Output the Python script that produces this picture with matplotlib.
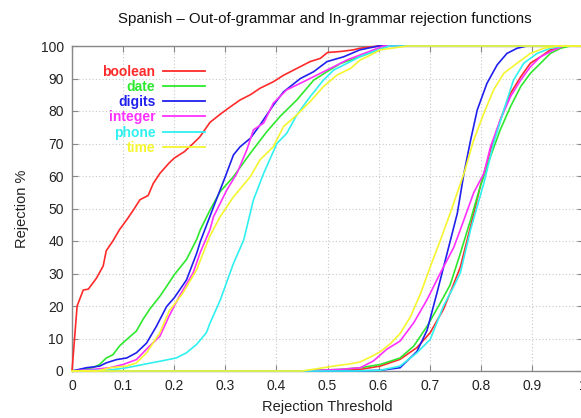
import matplotlib
matplotlib.use("Agg")
import matplotlib.pyplot as plt

plt.rcParams['font.family'] = ['Liberation Sans', 'DejaVu Sans']

categories = ["boolean", "date", "digits", "integer", "phone", "time"]
colors = ["#ff2a2a", "#2ee82e", "#2020ee", "#ff30ff", "#30f0f0", "#f5f530"]

# Out-of-grammar rejection curves (left group)
oog_boolean_t = [0, 0.01, 0.022, 0.032, 0.048, 0.061, 0.067, 0.08, 0.093, 0.107, 0.12, 0.133, 0.149, 0.159, 0.172,
                 0.19, 0.2, 0.22, 0.237, 0.25, 0.27, 0.29, 0.31, 0.329, 0.349, 0.368, 0.394, 0.414, 0.44, 0.466,
                 0.486, 0.5, 0.525, 0.55, 0.563, 0.6, 1.0]
oog_boolean_v = [0, 20, 24.9, 25.2, 28.6, 32.3, 37, 40, 43.5, 46.5, 49.5, 52.7, 54, 57.7, 60.8,
                 64, 65.5, 67.5, 70, 72, 76.5, 79, 81.3, 83.4, 85, 87, 89, 91, 93.1, 95.2,
                 96.2, 98, 98.3, 98.8, 99.3, 100, 100]

oog_date_t = [0, 0.02, 0.041, 0.054, 0.067, 0.08, 0.093, 0.107, 0.126, 0.139, 0.152, 0.172, 0.185, 0.2, 0.224,
              0.244, 0.251, 0.27, 0.29, 0.316, 0.349, 0.381, 0.407, 0.44, 0.473, 0.499, 0.525, 0.563, 0.62, 1.0]
oog_date_v = [0, 0.5, 1, 2, 4, 5, 7.7, 9.7, 12.3, 15.9, 19, 23, 26, 29.6, 34.3,
              40.5, 43.4, 49.5, 55.2, 59.8, 67, 73.6, 78.3, 83.4, 89.5, 92.1, 94.6, 96.7, 100, 100]

oog_digits_t = [0, 0.028, 0.054, 0.067, 0.087, 0.107, 0.126, 0.146, 0.165, 0.185, 0.2, 0.224, 0.244, 0.251, 0.277,
                0.3, 0.316, 0.329, 0.349, 0.368, 0.394, 0.414, 0.447, 0.473, 0.499, 0.532, 0.563, 0.6, 1.0]
oog_digits_v = [0, 1, 1.5, 2.5, 3.5, 4, 5.6, 8.6, 13.7, 19.8, 22.5, 28, 36.2, 39.8, 50.5,
                59.8, 66.5, 69, 71.6, 75.7, 81.8, 85.9, 90, 92.1, 95.2, 96.7, 98.8, 100, 100]

oog_integer_t = [0, 0.041, 0.074, 0.1, 0.126, 0.152, 0.172, 0.19, 0.21, 0.237, 0.251, 0.27, 0.277, 0.303, 0.323,
                 0.342, 0.355, 0.375, 0.394, 0.42, 0.453, 0.486, 0.512, 0.538, 0.563, 0.61, 1.0]
oog_integer_v = [0, 0.5, 1, 2, 3.5, 7.7, 10.7, 16.9, 23, 30.2, 36.5, 43.5, 47.5, 55.7, 60.9,
                 68, 74.2, 76.3, 82.4, 86.5, 89, 91.6, 93.6, 95.7, 97.2, 100, 100]

oog_phone_t = [0, 0.074, 0.107, 0.139, 0.172, 0.204, 0.224, 0.244, 0.263, 0.27, 0.29, 0.316, 0.336, 0.355, 0.375,
               0.401, 0.42, 0.44, 0.466, 0.492, 0.512, 0.545, 0.563, 0.62, 1.0]
oog_phone_v = [0, 0.3, 1, 2, 3, 4, 5.6, 8.2, 11.8, 14.7, 21.8, 33.1, 40.3, 52.6, 60.8,
               70, 73.1, 78.8, 84.4, 89.5, 92.6, 95.2, 96.7, 100, 100]

oog_time_t = [0, 0.05, 0.074, 0.107, 0.126, 0.146, 0.172, 0.19, 0.217, 0.244, 0.27, 0.29, 0.316, 0.349, 0.368,
              0.394, 0.414, 0.44, 0.466, 0.492, 0.518, 0.545, 0.564, 0.584, 0.603, 0.656, 1.0]
oog_time_v = [0, 0, 1, 1.5, 2.5, 5.6, 11.8, 18.4, 24, 31.2, 41.6, 47.5, 53.6, 59.8, 65,
              69, 75.2, 78.8, 82.9, 87.5, 91, 93.1, 95.7, 97.2, 98.8, 100, 100]

# In-grammar rejection curves (right group)
ig_boolean_t = [0, 0.45, 0.564, 0.603, 0.642, 0.675, 0.701, 0.727, 0.74, 0.76, 0.78, 0.799, 0.819, 0.838, 0.858,
                0.878, 0.897, 0.917, 0.936, 0.97, 1.0]
ig_boolean_v = [0, 0, 0.5, 1.5, 3.6, 7.2, 11.8, 19, 24, 32, 44.5, 56.8, 68, 77.2, 85.4,
                90.5, 94.7, 96.7, 98.8, 100, 100]

ig_date_t = [0, 0.45, 0.525, 0.564, 0.603, 0.642, 0.669, 0.695, 0.721, 0.74, 0.76, 0.78, 0.799, 0.819, 0.838,
             0.858, 0.878, 0.897, 0.917, 0.936, 0.956, 0.975, 1.0]
ig_date_v = [0, 0, 0.5, 1, 2, 4, 7.7, 13.8, 21, 26.5, 36.2, 46.5, 56.8, 66, 74.2,
             81.3, 87.5, 91.6, 94.7, 97.7, 99.3, 100, 100]

ig_digits_t = [0, 0.55, 0.603, 0.642, 0.675, 0.695, 0.714, 0.734, 0.754, 0.767, 0.78, 0.793, 0.812, 0.832, 0.851,
               0.871, 0.89, 1.0]
ig_digits_v = [0, 0, 0.2, 1, 6, 12.6, 23.9, 36.2, 48.5, 60.8, 71, 80.3, 88.5, 94.2, 97.7,
               99.3, 100, 100]

ig_integer_t = [0, 0.45, 0.525, 0.564, 0.59, 0.616, 0.642, 0.669, 0.695, 0.721, 0.747, 0.76, 0.786, 0.806, 0.819,
                0.838, 0.858, 0.878, 0.897, 0.917, 0.943, 0.962, 1.0]
ig_integer_v = [0, 0, 0.5, 1, 3.1, 6.7, 9.2, 14.9, 22, 30.2, 38, 43.5, 54.8, 60.8, 69,
                77.2, 84.4, 89.5, 93.6, 96.7, 98.8, 100, 100]

ig_phone_t = [0, 0.55, 0.603, 0.642, 0.675, 0.701, 0.727, 0.747, 0.76, 0.78, 0.806, 0.825, 0.845, 0.864, 0.884,
              0.91, 0.936, 0.96, 1.0]
ig_phone_v = [0, 0, 0.2, 1.5, 5.6, 9.7, 20, 26, 30.2, 43.5, 57.8, 70, 80.3, 89.5, 94.7,
              97.7, 99.3, 100, 100]

ig_time_t = [0, 0.45, 0.525, 0.545, 0.564, 0.584, 0.603, 0.623, 0.642, 0.662, 0.682, 0.701, 0.721, 0.74, 0.767,
             0.786, 0.806, 0.825, 0.845, 0.871, 0.897, 0.923, 0.95, 1.0]
ig_time_v = [0, 0, 1.8, 2.2, 2.8, 4.3, 5.9, 8.4, 11.5, 16.6, 23.8, 32, 40.3, 48.5, 60.8,
             71, 79.3, 86.5, 91.6, 94.7, 97.7, 99.3, 100, 100]

oog_curves = [(oog_boolean_t, oog_boolean_v), (oog_date_t, oog_date_v), (oog_digits_t, oog_digits_v),
              (oog_integer_t, oog_integer_v), (oog_phone_t, oog_phone_v), (oog_time_t, oog_time_v)]
ig_curves = [(ig_boolean_t, ig_boolean_v), (ig_date_t, ig_date_v), (ig_digits_t, ig_digits_v),
             (ig_integer_t, ig_integer_v), (ig_phone_t, ig_phone_v), (ig_time_t, ig_time_v)]

x_ticks = [0, 0.1, 0.2, 0.3, 0.4, 0.5, 0.6, 0.7, 0.8, 0.9, 1]
x_ticklabels = ["0", "0.1", "0.2", "0.3", "0.4", "0.5", "0.6", "0.7", "0.8", "0.9", "1"]
y_ticks = [0, 10, 20, 30, 40, 50, 60, 70, 80, 90, 100]

W, H = 581, 418
fig = plt.figure(figsize=(W / 100, H / 100), dpi=100)
ax = fig.add_axes([72 / W, 1 - 371 / H, 511 / W, 325 / H])

handles = []
for (ot, ov), (it, iv), name, c in zip(oog_curves, ig_curves, categories, colors):
    h, = ax.plot(ot, ov, color=c, lw=1.2, label=name, clip_on=False, zorder=3)
    ax.plot(it, iv, color=c, lw=1.2, clip_on=False, zorder=3)
    handles.append(h)

ax.set_xlim(0, 1)
ax.set_ylim(0, 100)
ax.set_xticks(x_ticks)
ax.set_xticklabels(x_ticklabels)
ax.set_yticks(y_ticks)
ax.grid(True, color="#c8c8c8", linestyle=(0, (1, 2)), linewidth=0.8)
ax.tick_params(direction="in", length=4, width=0.8, color="#888888", top=True, right=True,
               labelsize=10, labelcolor="#222222", pad=6)
for s in ax.spines.values():
    s.set_color("#888888")
    s.set_linewidth(1.0)

ax.set_xlabel("Rejection Threshold", fontsize=10.5, color="#222222", labelpad=5)
ax.set_ylabel("Rejection %", fontsize=10.5, color="#222222", labelpad=8)
fig.text(325 / W, 1 - 19 / H, "Spanish \u2013 Out-of-grammar and In-grammar rejection functions",
         ha="center", va="center", fontsize=10.8, color="#111111")

leg = ax.legend(handles=handles, loc="upper right", bbox_to_anchor=((205 - 72) / 511, (371 - 64.5) / 325),
                frameon=False, markerfirst=False, labelcolor="linecolor", borderpad=0, borderaxespad=0,
                handlelength=3.0, handletextpad=0.58, labelspacing=0.09,
                prop={"family": "Liberation Sans", "weight": "bold", "size": 10})
for line in leg.get_lines():
    line.set_linewidth(1.3)

fig.savefig("out.png", dpi=100)
